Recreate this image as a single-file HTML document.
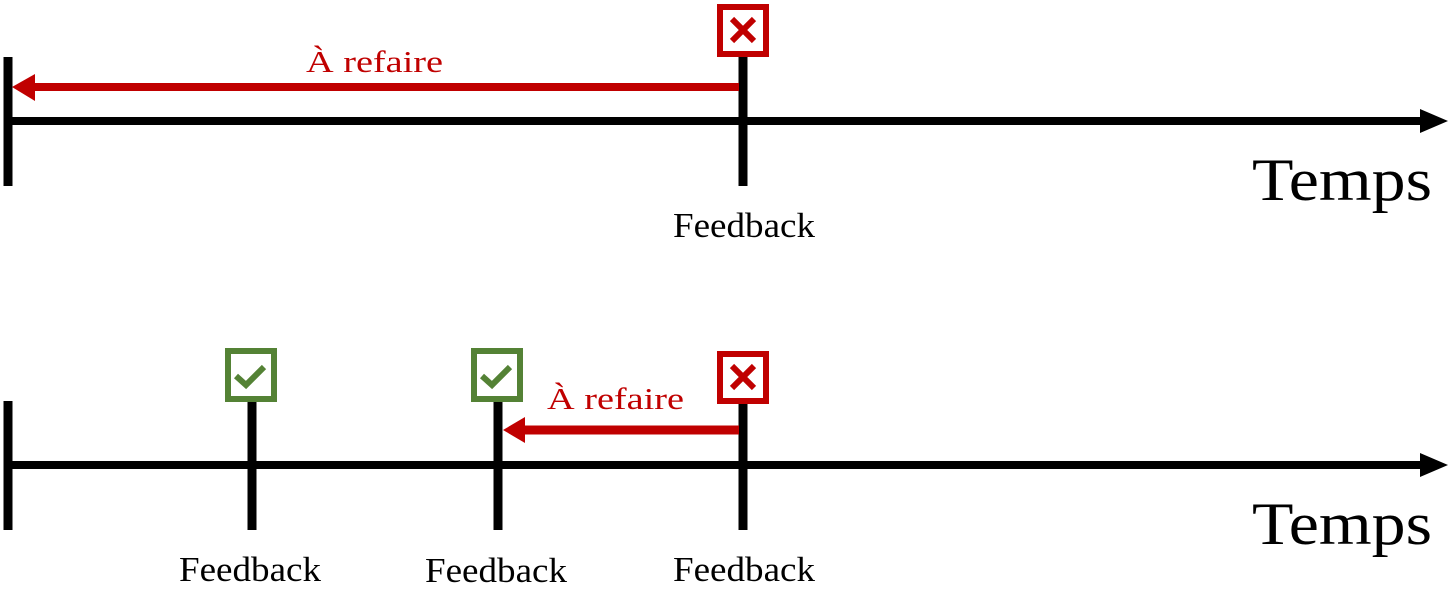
<!DOCTYPE html>
<html><head><meta charset="utf-8"><style>html,body{margin:0;padding:0;background:#fff}svg{display:block}</style></head>
<body>
<svg width="1450" height="589" viewBox="0 0 1450 589" xmlns="http://www.w3.org/2000/svg" font-family="'Liberation Serif', serif">
<!-- top timeline -->
<line x1="8" y1="121" x2="1422" y2="121" stroke="#000" stroke-width="8"/>
<polygon points="1420,109 1448,121 1420,133" fill="#000"/>
<line x1="8" y1="57" x2="8" y2="186" stroke="#000" stroke-width="9"/>
<line x1="743" y1="57" x2="743" y2="186" stroke="#000" stroke-width="9"/>
<rect x="720" y="7" width="46" height="47" fill="none" stroke="#c00000" stroke-width="6"/>
<path d="M732 19 L754 41 M754 19 L732 41" stroke="#c00000" stroke-width="6"/>
<line x1="34" y1="87" x2="739" y2="87" stroke="#c00000" stroke-width="8"/>
<polygon points="12,87 35,74 35,101" fill="#c00000"/>
<text x="306" y="72" font-size="31" fill="#c00000" textLength="137" lengthAdjust="spacingAndGlyphs">À refaire</text>
<text x="1252" y="200" font-size="60" textLength="180" lengthAdjust="spacingAndGlyphs">Temps</text>
<text x="673" y="237" font-size="35" textLength="142" lengthAdjust="spacingAndGlyphs">Feedback</text>
<!-- bottom timeline -->
<line x1="8" y1="465" x2="1422" y2="465" stroke="#000" stroke-width="8"/>
<polygon points="1420,453 1448,465 1420,477" fill="#000"/>
<line x1="8" y1="401" x2="8" y2="530" stroke="#000" stroke-width="9"/>
<line x1="252" y1="402" x2="252" y2="530" stroke="#000" stroke-width="9"/>
<line x1="498" y1="402" x2="498" y2="530" stroke="#000" stroke-width="9"/>
<line x1="743" y1="404" x2="743" y2="530" stroke="#000" stroke-width="9"/>
<rect x="228" y="351" width="46" height="48" fill="none" stroke="#548235" stroke-width="6"/>
<path d="M236 376 L246 385 L264 367" fill="none" stroke="#548235" stroke-width="6"/>
<rect x="474" y="351" width="46" height="48" fill="none" stroke="#548235" stroke-width="6"/>
<path d="M482 376 L492 385 L510 367" fill="none" stroke="#548235" stroke-width="6"/>
<rect x="720" y="354" width="46" height="47" fill="none" stroke="#c00000" stroke-width="6"/>
<path d="M732 366 L754 388 M754 366 L732 388" stroke="#c00000" stroke-width="6"/>
<line x1="524" y1="430" x2="739" y2="430" stroke="#c00000" stroke-width="9"/>
<polygon points="503,430 525,417 525,443" fill="#c00000"/>
<text x="547" y="409" font-size="31" fill="#c00000" textLength="137" lengthAdjust="spacingAndGlyphs">À refaire</text>
<text x="1252" y="544" font-size="60" textLength="180" lengthAdjust="spacingAndGlyphs">Temps</text>
<text x="179" y="581" font-size="35" textLength="142" lengthAdjust="spacingAndGlyphs">Feedback</text>
<text x="425" y="582" font-size="35" textLength="142" lengthAdjust="spacingAndGlyphs">Feedback</text>
<text x="673" y="581" font-size="35" textLength="142" lengthAdjust="spacingAndGlyphs">Feedback</text>
</svg>
</body></html>
